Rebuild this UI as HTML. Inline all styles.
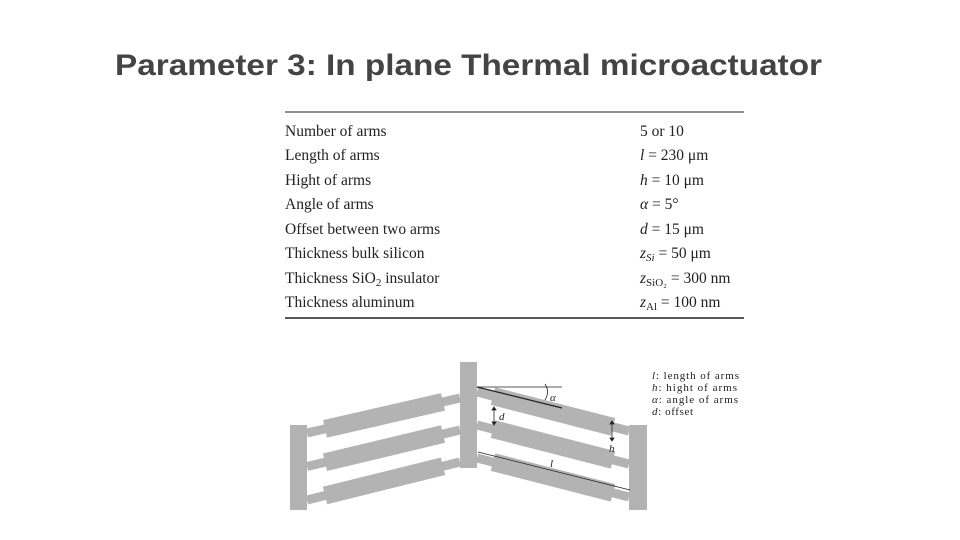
<!DOCTYPE html>
<html><head><meta charset="utf-8"><style>html,body{margin:0;padding:0;background:#fff}svg{display:block}</style></head>
<body>
<svg width="960" height="540" viewBox="0 0 960 540" xmlns="http://www.w3.org/2000/svg">
<text x="115" y="75" font-family="Liberation Sans, sans-serif" font-weight="bold" font-size="30" fill="#444" textLength="707" lengthAdjust="spacingAndGlyphs">Parameter 3: In plane Thermal microactuator</text>
<g font-family="Liberation Serif, serif" font-size="15.5" fill="#222">
<line x1="285" y1="112" x2="744" y2="112" stroke="#222" stroke-width="1"/>
<line x1="285" y1="318" x2="744" y2="318" stroke="#222" stroke-width="1.6"/>
<text x="285" y="136">Number of arms</text><text x="640" y="136">5 or 10</text>
<text x="285" y="160">Length of arms</text><text x="640" y="160"><tspan font-style="italic">l</tspan> = 230 μm</text>
<text x="285" y="185">Hight of arms</text><text x="640" y="185"><tspan font-style="italic">h</tspan> = 10 μm</text>
<text x="285" y="209">Angle of arms</text><text x="640" y="209"><tspan font-style="italic">α</tspan> = 5°</text>
<text x="285" y="234">Offset between two arms</text><text x="640" y="234"><tspan font-style="italic">d</tspan> = 15 μm</text>
<text x="285" y="258">Thickness bulk silicon</text><text x="640" y="258"><tspan font-style="italic">z</tspan><tspan font-size="11" dy="3" font-style="italic">Si</tspan><tspan dy="-3"> = 50 μm</tspan></text>
<text x="285" y="283">Thickness SiO<tspan font-size="11" dy="3">2</tspan><tspan dy="-3"> insulator</tspan></text><text x="640" y="283"><tspan font-style="italic">z</tspan><tspan font-size="11" dy="3">SiO₂</tspan><tspan dy="-3"> = 300 nm</tspan></text>
<text x="285" y="307">Thickness aluminum</text><text x="640" y="307"><tspan font-style="italic">z</tspan><tspan font-size="11" dy="3">Al</tspan><tspan dy="-3"> = 100 nm</tspan></text>
</g>
<g fill="#b3b3b3">
<rect x="460" y="362" width="17" height="106"/>
<rect x="290" y="425" width="17" height="85"/>
<rect x="629" y="425" width="18" height="85"/>
<g id="arms"></g>
</g>
<g stroke="#222" fill="none" stroke-width="0.8">
<line x1="477" y1="387" x2="562" y2="387"/>
<line x1="477" y1="387" x2="562" y2="408" stroke-width="1.2"/>
<path d="M545 384 Q550 392 545 400"/>
<line x1="494" y1="407" x2="494" y2="425"/>
<line x1="612" y1="421" x2="612" y2="441"/>
<line x1="478" y1="452" x2="630" y2="490"/>
</g>
<g font-family="Liberation Serif, serif" font-style="italic" font-size="11" fill="#222">
<text x="550" y="401">α</text><text x="499" y="420">d</text><text x="609" y="452">h</text><text x="550" y="467">l</text>
</g>
<g font-family="Liberation Serif, serif" font-size="11" fill="#222">
<text x="652" y="379" textLength="87"><tspan font-style="italic">l</tspan>: length of arms</text>
<text x="652" y="391" textLength="85"><tspan font-style="italic">h</tspan>: hight of arms</text>
<text x="652" y="403" textLength="86"><tspan font-style="italic">α</tspan>: angle of arms</text>
<text x="652" y="415" textLength="41"><tspan font-style="italic">d</tspan>: offset</text>
</g>
<script>
const ns='http://www.w3.org/2000/svg';
const g=document.getElementById('arms');
function beam(x1,y1,x2,y2,w){
  const dx=x2-x1,dy=y2-y1,L=Math.hypot(dx,dy),nx=-dy/L*w/2,ny=dx/L*w/2;
  const p=document.createElementNS(ns,'polygon');
  p.setAttribute('points',[[x1+nx,y1+ny],[x2+nx,y2+ny],[x2-nx,y2-ny],[x1-nx,y1-ny]].map(a=>a.join(',')).join(' '));
  
  
  g.appendChild(p);
}
for(let k=0;k<3;k++){
  let ya=433+k*33.5, yc=398+k*32;
  beam(307,ya,460,yc,9);
  let f=(x)=>ya+(yc-ya)*(x-307)/(153);
  beam(325,f(325),443,f(443),18);
  let yb=392+k*33, yr=431+k*33;
  beam(477,yb,629,yr,9);
  let h=(x)=>yb+(yr-yb)*(x-477)/152;
  beam(493,h(493),613,h(613),18);
}
</script>
<g stroke="#222" stroke-width="0.8" fill="#222">
<path d="M494 407 l-2 3 h4z M494 425 l-2 -3 h4z M612 421 l-2 3 h4z M612 441 l-2 -3 h4z"/>
</g>
</svg>
</body></html>
